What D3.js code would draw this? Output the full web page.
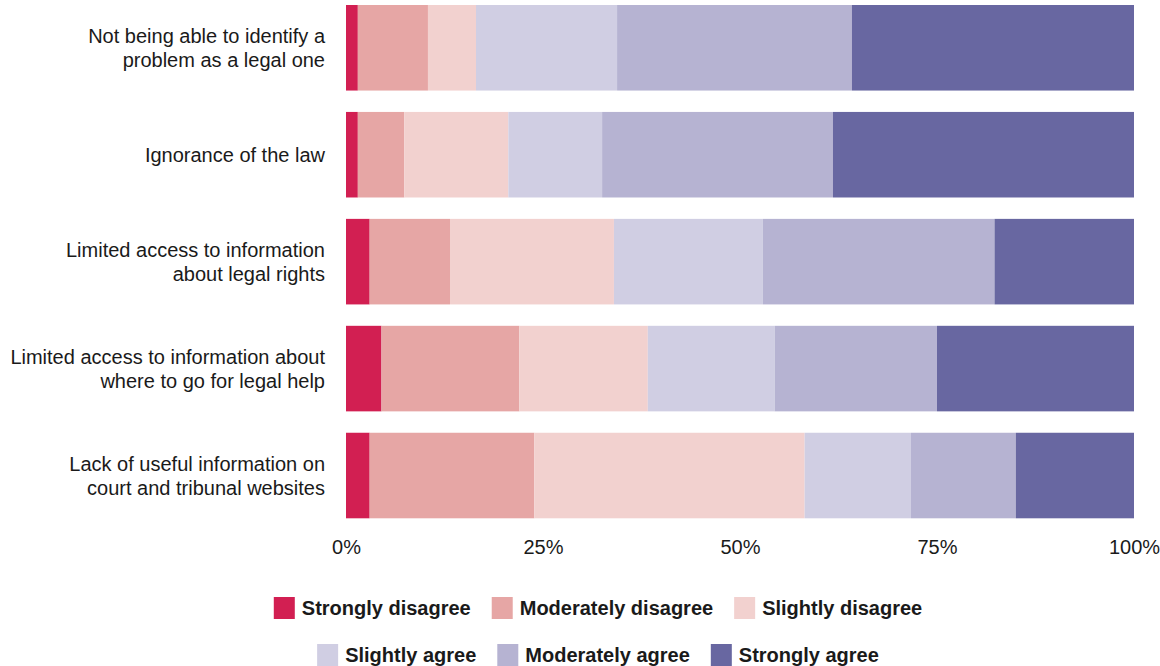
<!DOCTYPE html>
<html><head><meta charset="utf-8">
<script src="https://cdn.jsdelivr.net/npm/d3@7"></script>
<style>body{margin:0;background:#fff;} text{font-family:"Liberation Sans",Arial,sans-serif;}</style>
</head><body><svg id="c" width="1160" height="666"></svg>
<script>
const categories = [
  ["Not being able to identify a","problem as a legal one"],
  ["Ignorance of the law"],
  ["Limited access to information","about legal rights"],
  ["Limited access to information about","where to go for legal help"],
  ["Lack of useful information on","court and tribunal websites"]
];
const seriesNames = ["Strongly disagree","Moderately disagree","Slightly disagree","Slightly agree","Moderately agree","Strongly agree"];
const stronglyDisagree   = [1.5, 1.5, 3.0, 4.5, 3.0];
const moderatelyDisagree = [8.9, 5.9, 10.2, 17.5, 20.9];
const slightlyDisagree   = [6.1, 13.2, 20.8, 16.3, 34.3];
const slightlyAgree      = [17.9, 11.9, 18.9, 16.1, 13.5];
const moderatelyAgree    = [29.8, 29.3, 29.4, 20.6, 13.3];
const stronglyAgree      = [35.8, 38.2, 17.7, 25.0, 15.0];
const colors = ["#d21f52","#e6a6a5","#f2d1cf","#d0cee3","#b6b3d2","#6867a1"];
const tickValues = [0, 25, 50, 75, 100];
const tickLabels = ["0%","25%","50%","75%","100%"];

const series = [stronglyDisagree, moderatelyDisagree, slightlyDisagree, slightlyAgree, moderatelyAgree, stronglyAgree];
const rows = categories.map((c,i)=>{const o={idx:i}; seriesNames.forEach((s,j)=>o[s]=series[j][i]); return o;});
const stacked = d3.stack().keys(seriesNames)(rows);

const svg = d3.select("#c");
const x = d3.scaleLinear().domain([0,100]).range([346,1134]);
const y = d3.scaleBand().domain(d3.range(categories.length)).range([5,518.3]).paddingInner(0.2).paddingOuter(0);
const color = d3.scaleOrdinal().domain(seriesNames).range(colors);

svg.append("g").selectAll("g").data(stacked).join("g")
  .attr("fill", d=>color(d.key))
  .selectAll("rect").data(d=>d).join("rect")
  .attr("x", d=>x(d[0])).attr("width", d=>x(d[1])-x(d[0]))
  .attr("y", d=>y(d.data.idx)).attr("height", y.bandwidth());

// category labels
const lab = svg.append("g");
categories.forEach((lines,i)=>{
  const cy = y(i)+y.bandwidth()/2;
  const lh = 24;
  lines.forEach((l,k)=>{
    lab.append("text").attr("x",325).attr("y", cy + (k-(lines.length-1)/2)*lh)
      .attr("text-anchor","end").attr("dominant-baseline","central")
      .attr("font-size",20).attr("fill","#1a1a1a").text(l);
  });
});

// x axis
const ax = svg.append("g").attr("transform","translate(0,540)")
  .call(d3.axisBottom(x).tickValues(tickValues).tickFormat((d,i)=>tickLabels[i]).tickSize(0).tickPadding(0));
ax.select(".domain").remove();
ax.selectAll("text").attr("font-size",20).attr("fill","#1a1a1a").attr("font-family","Liberation Sans, Arial, sans-serif");

// legend
const legRows = [seriesNames.slice(0,3), seriesNames.slice(3)];
const legY = [608, 655];
legRows.forEach((items,r)=>{
  const g = svg.append("g");
  let cx = 0;
  items.forEach((name,k)=>{
    const ig = g.append("g");
    ig.append("rect").attr("x",0).attr("y",-11).attr("width",21).attr("height",22).attr("fill",color(name));
    const t = ig.append("text").attr("x",28).attr("y",0).attr("dominant-baseline","central")
      .attr("font-size",20).attr("font-weight","bold").attr("fill","#1a1a1a").text(name);
    const w = 28 + t.node().getComputedTextLength();
    ig.attr("transform",`translate(${cx},0)`);
    cx += w + (k<items.length-1?21:0);
  });
  g.attr("transform",`translate(${598 - cx/2},${legY[r]})`);
});
</script></body></html>
